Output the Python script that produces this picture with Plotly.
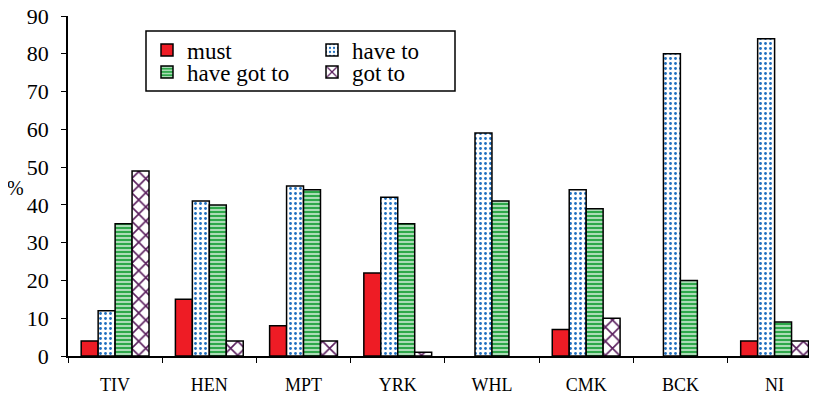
import plotly.graph_objects as go

categories = ["TIV", "HEN", "MPT", "YRK", "WHL", "CMK", "BCK", "NI"]
must = [4, 15, 8, 22, None, 7, None, 4]
have_to = [12, 41, 45, 42, 59, 44, 80, 84]
have_got_to = [35, 40, 44, 35, 41, 39, 20, 9]
got_to = [49, 4, 4, 1, None, 10, None, 4]
y_ticks = [0, 10, 20, 30, 40, 50, 60, 70, 80, 90]

FONT = "Liberation Serif"
line = dict(color="black", width=1.5)

# The page body has an 8px default margin, so the figure starts at (8, 8).
OFF = 8
FIG_W, FIG_H = 817 - OFF, 395 - OFF
# plot-area geometry in page pixels
L, T, B, R = 68, 16, 356, 817
W = R - L
def px(x):
    return (x - L) / W
def py(y):
    return (B - y) / (B - T)

fig = go.Figure()
fig.add_trace(go.Bar(name="must", x=categories, y=must, legend="legend",
                     marker=dict(color="#ee1c25", line=line)))
fig.add_trace(go.Bar(name="have to", x=categories, y=have_to, legend="legend2",
                     marker=dict(color="white", line=line,
                                 pattern=dict(shape=".", fgcolor="#1f6fc0", bgcolor="white",
                                              size=5, solidity=0.25, fillmode="replace"))))
fig.add_trace(go.Bar(name="have got to", x=categories, y=have_got_to, legend="legend3",
                     marker=dict(color="#2ea84a", line=line,
                                 pattern=dict(shape="-", fgcolor="white", bgcolor="#2ea84a",
                                              size=4, solidity=0.3, fillmode="replace"))))
fig.add_trace(go.Bar(name="got to", x=categories, y=got_to, legend="legend4",
                     marker=dict(color="white", line=line,
                                 pattern=dict(shape="x", fgcolor="#5b1f5e", bgcolor="white",
                                              size=10, solidity=0.3, fillmode="replace"))))

def leg(x, y):
    return dict(x=px(x), y=py(y), orientation="v", xanchor="left", yanchor="middle",
                bgcolor="rgba(0,0,0,0)", borderwidth=0,
                font=dict(size=23, family=FONT, color="black"),
                tracegroupgap=0, itemwidth=30)

fig.update_layout(
    template="none",
    width=FIG_W, height=FIG_H,
    margin=dict(l=L - OFF, r=0, t=T - OFF, b=FIG_H - (B - OFF), pad=0),
    paper_bgcolor="white", plot_bgcolor="white",
    font=dict(family=FONT, color="black", size=18),
    barmode="group", bargap=0.28, bargroupgap=0,
    showlegend=True,
    legend=leg(147, 50),
    legend2=leg(312, 50),
    legend3=leg(147, 72),
    legend4=leg(312, 72),
    xaxis=dict(range=[-0.5, 7.45], showline=True, linecolor="black", linewidth=1.5,
               ticks="outside", tickson="boundaries", ticklen=5, tickcolor="black",
               tickfont=dict(size=18, family=FONT, color="black"), showgrid=False, zeroline=False,
               ticklabelstandoff=12),
    yaxis=dict(range=[0, 90], tickvals=y_ticks, showline=True, linecolor="black",
               linewidth=1.5, ticks="outside", ticklen=5, tickcolor="black",
               tickfont=dict(size=22, family=FONT, color="black"), showgrid=False, zeroline=False,
               ticklabelstandoff=8, ticklabeloverflow="allow"),
    shapes=[dict(type="rect", xref="paper", yref="paper",
                 x0=px(146), x1=px(455), y0=py(91), y1=py(31),
                 line=dict(color="black", width=1.5), fillcolor="white", layer="above")],
    annotations=[dict(text="%", x=px(15), y=py(188), xref="paper", yref="paper",
                      xanchor="center", yanchor="middle",
                      showarrow=False, font=dict(size=20, family=FONT, color="black"))],
)

fig.write_html("out.html")
